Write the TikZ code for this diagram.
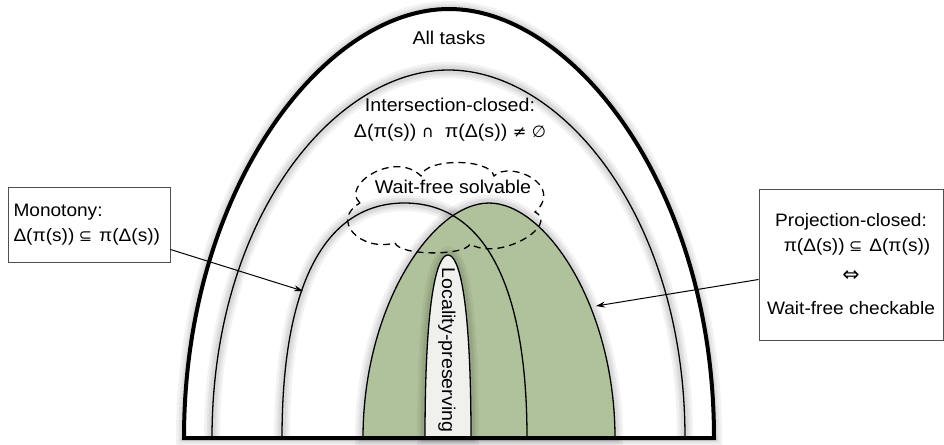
\documentclass[tikz,border=0pt]{standalone}
\usepackage{graphicx}
\usepackage{fontspec}
\setmainfont{Liberation Sans}[FakeStretch=1.06]
\newfontfamily\symf{DejaVu Sans}[Scale=0.88]
\usetikzlibrary{arrows.meta,calc}
\definecolor{gfill}{RGB}{176,194,155}
\definecolor{lfill}{RGB}{240,240,236}
\definecolor{boxline}{RGB}{80,80,80}
\tikzset{
  arch/.style n args={6}{insert path={({#1-#2},#3) .. controls ({#1-#2},{#3-#5*(#3-#4)}) and ({#1-#6*#2},#4) .. (#1,#4) .. controls ({#1+#6*#2},#4) and ({#1+#2},{#3-#5*(#3-#4)}) .. ({#1+#2},#3)}},
  halo/.style={preaction={draw=black, draw opacity=0.05, line width=16pt},
               preaction={draw=black, draw opacity=0.05, line width=11pt},
               preaction={draw=black, draw opacity=0.05, line width=7pt}},
  txt/.style={font=\fontsize{18.5}{26}\selectfont, inner sep=0pt},
  infobox/.style={draw=boxline, line width=1pt, fill=white, font=\fontsize{18}{25}\selectfont},
  thin/.style={line width=1.3pt},
  conn/.style={line width=1pt, -{Stealth[length=9pt,width=6pt]}},
  dashline/.style={dash pattern=on 7pt off 5pt, line width=1.3pt},
}
\begin{document}
\begin{tikzpicture}[x=1pt,y=-1pt]
\useasboundingbox (0,0) rectangle (944,444);
% outer arch
\draw[halo, line width=4pt, fill=white, line join=miter] [arch={449}{265}{438}{9}{0.58}{0.47}] -- cycle;
% intersection-closed arch
\draw[halo, thin] [arch={448.5}{236.5}{438}{70}{0.6}{0.48}];
% monotony arch halo
\path[halo] [arch={404.5}{122.5}{438}{203}{0.7}{0.6}];
% projection-closed (green)
\draw[halo, thin, fill=gfill] [arch={489}{126}{438}{203}{0.56}{0.45}] -- cycle;
% monotony arch
\draw[thin] [arch={404.5}{122.5}{438}{203}{0.7}{0.6}];
% locality-preserving finger
\draw[halo, thin, fill=lfill] [arch={448}{23}{438}{255}{0.75}{0.5}] -- cycle;
% bottom line
\coordinate (bl) at (182,438);
\coordinate (br) at (716,438);
\draw[line width=4pt] (bl) -- (br);
% texts
\node[txt] (all) at (449,38) {All tasks};
\node[txt, align=center] (ic) at (450,120) {Intersection-closed:\\ Δ(π(s)) {\symf ∩}~ π(Δ(s)) {\symf ≠} {\symf ∅}};
\node[txt, rotate=-90] (loc) at (447,350) {Locality-preserving};
% cloud (wait-free solvable)
\draw[dashline]
  (360,203) .. controls (340,185) and (395,150) .. (421,176)
            .. controls (425,158) and (490,158) .. (494,176)
            .. controls (510,160) and (565,185) .. (535,212)
            .. controls (560,225) and (500,262) .. (470,244)
            .. controls (465,256) and (400,256) .. (395,243)
            .. controls (360,252) and (330,220) .. (360,203);
\node[txt] (wfs) at (453,187) {Wait-free solvable};
% boxes
\node[infobox, text width=151pt, align=left, minimum width=162pt, minimum height=75pt, inner xsep=5.5pt] (mono) at (89,224.5) {Monotony:\\ Δ(π(s))\hspace{4.5pt}{\symf ⊆}\hspace{7pt}π(Δ(s))};
\node[infobox, align=center, minimum width=184pt, minimum height=151pt, inner xsep=2pt] (proj) at (851,264.5) {Projection-closed:\\ \hspace{12pt}π(Δ(s))\hspace{4.5pt}{\symf ⊆}\hspace{7pt}Δ(π(s))\\[5pt] \scalebox{1.3}{\symf ⇔}\\[8pt] Wait-free checkable};
% connectors
\coordinate (mtip) at (303,291);
\coordinate (ptip) at (596,306);
\draw[conn] ($(mono.south east)+(0,-13)$) -- (mtip);
\draw[conn] ($(proj.west)+(0,15)$) -- (ptip);
\end{tikzpicture}
\end{document}
